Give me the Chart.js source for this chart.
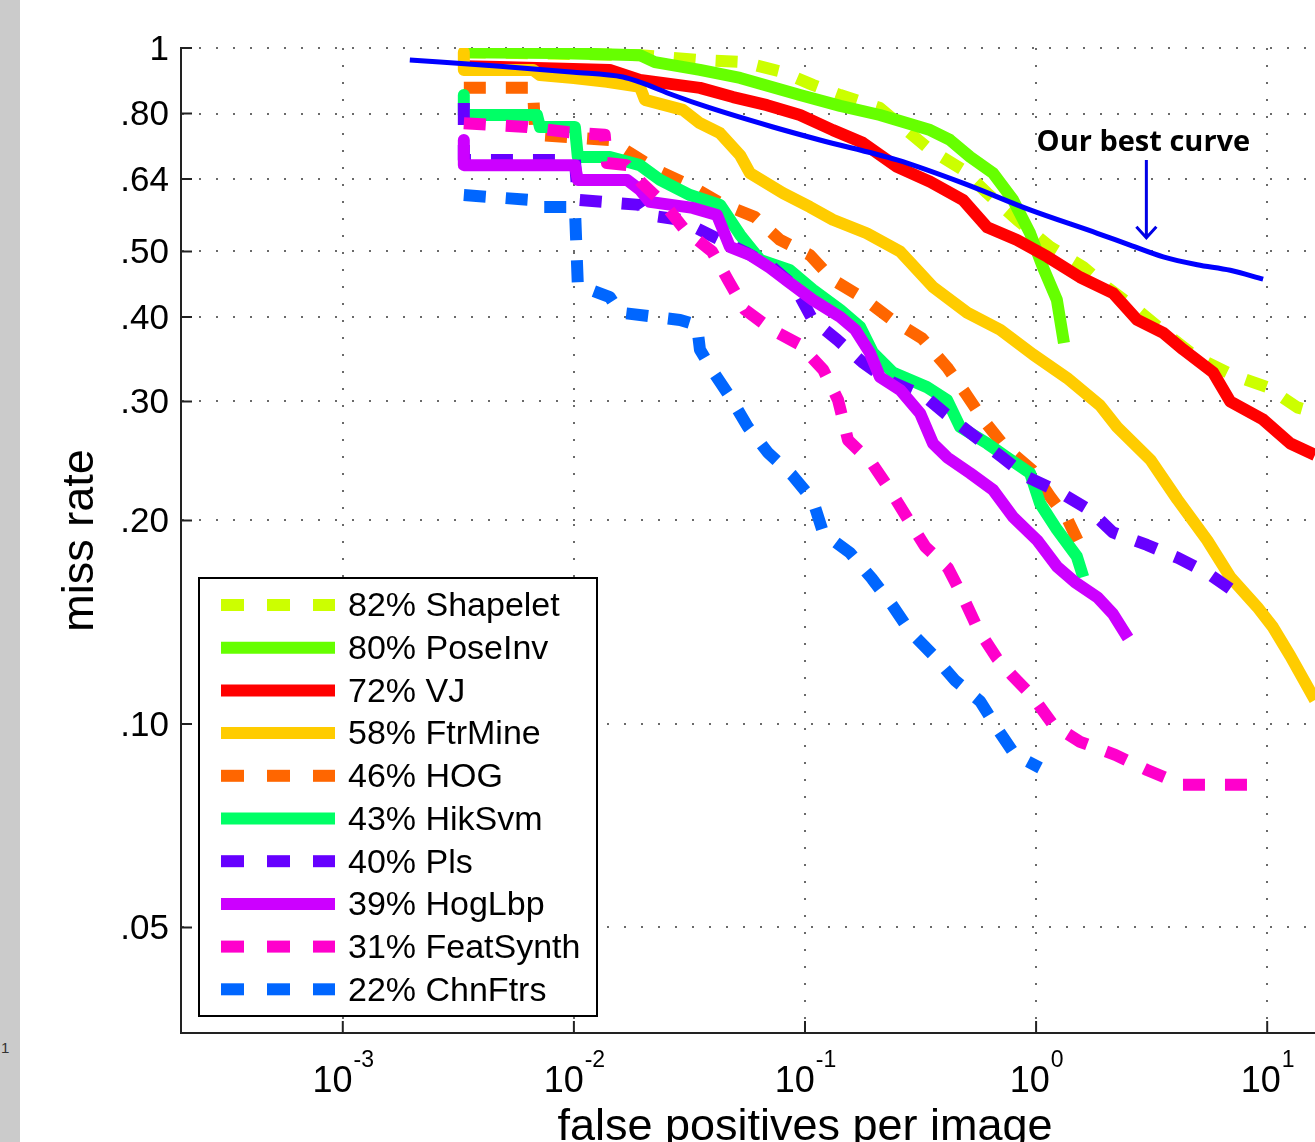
<!DOCTYPE html>
<html>
<head>
<meta charset="utf-8">
<script src="https://cdn.jsdelivr.net/npm/chart.js@4.4.1/dist/chart.umd.min.js"></script>
<style>
  html, body { margin: 0; padding: 0; background: #fff; overflow: hidden; }
  #wrap { position: absolute; left: 0; top: 0; width: 1315px; height: 1142px; }
  #strip { position: absolute; left: 0; top: 0; width: 20px; height: 1142px; background: #cbcbcb; }
  #strip span { position: absolute; left: 1px; top: 1039px; font: 15px "Liberation Sans", Arial, sans-serif; color: #333; }
</style>
</head>
<body>
<div id="wrap"><canvas id="roc"></canvas></div>
<div id="strip"><span>1</span></div>
<script>
// axis ticks
const xTicks = [0.001, 0.01, 0.1, 1, 10];
const xExponents = ["-3", "-2", "-1", "0", "1"];
const yTicks = [0.05, 0.1, 0.2, 0.3, 0.4, 0.5, 0.64, 0.8, 1];
const yLabels = [".05", ".10", ".20", ".30", ".40", ".50", ".64", ".80", "1"];

// methods (legend order) and their log-average miss rates
const methods = ["Shapelet", "PoseInv", "VJ", "FtrMine", "HOG", "HikSvm", "Pls", "HogLbp", "FeatSynth", "ChnFtrs"];
const missRates = [82, 80, 72, 58, 46, 43, 40, 39, 31, 22];

// curves: false positives per image / miss rate
const shapeletFppi = [0.00334, 0.0193, 0.0351, 0.0539, 0.0803, 0.108, 0.142, 0.211, 0.285, 0.348, 0.483, 0.614, 0.827, 1.15, 1.6, 2.09, 2.74, 3.8, 4.98, 7.13, 10, 13.5, 16.1];
const shapeletMiss = [0.986, 0.976, 0.96, 0.953, 0.921, 0.882, 0.852, 0.815, 0.748, 0.707, 0.66, 0.61, 0.557, 0.508, 0.474, 0.439, 0.41, 0.374, 0.348, 0.328, 0.315, 0.294, 0.289];

const poseInvFppi = [0.00334, 0.00828, 0.0193, 0.0224, 0.0351, 0.0524, 0.0951, 0.142, 0.211, 0.348, 0.424, 0.518, 0.651, 0.795, 0.942, 1.07, 1.23, 1.32];
const poseInvMiss = [0.986, 0.983, 0.976, 0.953, 0.928, 0.903, 0.852, 0.821, 0.796, 0.756, 0.731, 0.69, 0.653, 0.596, 0.532, 0.474, 0.424, 0.366];

const vjFppi = [0.00334, 0.00478, 0.0143, 0.0193, 0.0351, 0.0488, 0.0685, 0.0951, 0.132, 0.178, 0.25, 0.348, 0.483, 0.614, 0.827, 1.12, 1.55, 2.15, 2.74, 3.55, 4.33, 5.84, 6.92, 9.6, 12.6, 16.1];
const vjMiss = [0.94, 0.937, 0.928, 0.897, 0.873, 0.846, 0.823, 0.796, 0.756, 0.724, 0.667, 0.634, 0.596, 0.543, 0.52, 0.491, 0.458, 0.434, 0.396, 0.379, 0.358, 0.331, 0.3, 0.282, 0.26, 0.25];

const ftrMineFppi = [0.00334, 0.00334, 0.00665, 0.00713, 0.01, 0.0139, 0.0193, 0.0203, 0.0296, 0.0351, 0.0429, 0.0524, 0.0578, 0.0803, 0.105, 0.132, 0.185, 0.258, 0.358, 0.503, 0.699, 0.97, 1.36, 1.89, 2.24, 3.12, 4.08, 5.5, 6.92, 9.05, 10.6, 12.6, 16.1];
const ftrMineMiss = [0.986, 0.928, 0.928, 0.912, 0.903, 0.891, 0.876, 0.838, 0.81, 0.774, 0.748, 0.694, 0.653, 0.61, 0.582, 0.557, 0.532, 0.5, 0.443, 0.406, 0.383, 0.352, 0.325, 0.296, 0.275, 0.246, 0.215, 0.187, 0.165, 0.149, 0.139, 0.126, 0.1085];

const hogFppi = [0.00334, 0.00665, 0.00681, 0.0143, 0.0175, 0.0236, 0.0327, 0.0429, 0.0608, 0.078, 0.105, 0.132, 0.178, 0.238, 0.321, 0.412, 0.493, 0.59, 0.734, 0.961, 1.15, 1.375, 1.63];
const hogMiss = [0.873, 0.873, 0.744, 0.731, 0.699, 0.656, 0.623, 0.59, 0.562, 0.52, 0.494, 0.454, 0.427, 0.396, 0.372, 0.337, 0.309, 0.282, 0.257, 0.2375, 0.217, 0.2, 0.177];

const hikSvmFppi = [0.00334, 0.00334, 0.00692, 0.00713, 0.0101, 0.0104, 0.0143, 0.0193, 0.0236, 0.0318, 0.0429, 0.0524, 0.0639, 0.0861, 0.108, 0.142, 0.173, 0.197, 0.24, 0.337, 0.412, 0.469, 0.614, 0.749, 0.942, 1.04, 1.23, 1.5, 1.6];
const hikSvmMiss = [0.852, 0.796, 0.796, 0.764, 0.764, 0.69, 0.69, 0.671, 0.638, 0.606, 0.586, 0.529, 0.486, 0.469, 0.439, 0.41, 0.387, 0.354, 0.331, 0.315, 0.3015, 0.275, 0.26, 0.248, 0.235, 0.212, 0.194, 0.177, 0.165];

const plsFppi = [0.00334, 0.00334, 0.0101, 0.0104, 0.0193, 0.0207, 0.0288, 0.0388, 0.055, 0.072, 0.0905, 0.108, 0.138, 0.177, 0.226, 0.331, 0.404, 0.545, 0.713, 0.914, 1.27, 1.71, 2.15, 3.02, 4.12, 5.55, 8.03];
const plsMiss = [0.829, 0.683, 0.683, 0.596, 0.586, 0.566, 0.557, 0.529, 0.499, 0.474, 0.443, 0.396, 0.37, 0.343, 0.323, 0.305, 0.288, 0.266, 0.248, 0.232, 0.22, 0.207, 0.192, 0.184, 0.176, 0.167, 0.153];

const hogLbpFppi = [0.00334, 0.00334, 0.0101, 0.0104, 0.017, 0.0193, 0.0213, 0.0327, 0.0416, 0.0473, 0.0578, 0.0705, 0.0861, 0.108, 0.142, 0.165, 0.191, 0.211, 0.258, 0.315, 0.358, 0.412, 0.518, 0.651, 0.795, 1.01, 1.23, 1.475, 1.84, 2.15, 2.5];
const hogLbpMiss = [0.731, 0.671, 0.671, 0.638, 0.638, 0.617, 0.592, 0.58, 0.566, 0.508, 0.494, 0.473, 0.449, 0.424, 0.4, 0.383, 0.354, 0.326, 0.312, 0.288, 0.26, 0.248, 0.235, 0.222, 0.2024, 0.187, 0.171, 0.162, 0.154, 0.1455, 0.134];

const featSynthFppi = [0.00334, 0.00626, 0.00933, 0.0136, 0.0139, 0.0169, 0.0197, 0.0248, 0.0302, 0.0396, 0.0464, 0.055, 0.072, 0.0951, 0.12, 0.139, 0.1535, 0.195, 0.233, 0.277, 0.331, 0.416, 0.483, 0.561, 0.678, 0.787, 0.97, 1.185, 1.55, 2.2, 3.02, 4.29, 9.8];
const featSynthMiss = [0.774, 0.764, 0.751, 0.744, 0.676, 0.671, 0.631, 0.586, 0.538, 0.5, 0.454, 0.41, 0.383, 0.364, 0.334, 0.3015, 0.263, 0.243, 0.222, 0.2017, 0.183, 0.17, 0.154, 0.138, 0.125, 0.118, 0.1096, 0.0997, 0.0941, 0.09, 0.0855, 0.0813, 0.0813];

const chnFtrsFppi = [0.00334, 0.00645, 0.00681, 0.0101, 0.0104, 0.0143, 0.0158, 0.0288, 0.0341, 0.0351, 0.0396, 0.0473, 0.0566, 0.0691, 0.0879, 0.108, 0.12, 0.157, 0.195, 0.238, 0.285, 0.358, 0.446, 0.573, 0.685, 0.811, 1.04];
const chnFtrsMiss = [0.606, 0.596, 0.582, 0.582, 0.446, 0.428, 0.406, 0.396, 0.389, 0.358, 0.334, 0.305, 0.275, 0.252, 0.2335, 0.2145, 0.1916, 0.179, 0.164, 0.15, 0.137, 0.1265, 0.116, 0.108, 0.098, 0.09, 0.0861];

const oursFppi = [0.00195, 0.00478, 0.01, 0.0163, 0.0193, 0.0268, 0.0377, 0.0727, 0.116, 0.25, 0.483, 0.942, 1.84, 2.55, 3.55, 4.98, 6.92, 9.6];
const oursMiss = [0.96, 0.94, 0.921, 0.906, 0.89, 0.852, 0.818, 0.764, 0.731, 0.683, 0.631, 0.576, 0.532, 0.511, 0.491, 0.478, 0.469, 0.455];

// styles
const colors = ["#ccff00", "#66ff00", "#ff0000", "#ffcc00", "#ff6600", "#00ff66", "#6600ff", "#cc00ff", "#ff00cc", "#0066ff"];
const dashed = [true, false, false, false, true, false, true, false, true, true];

const curves = [
  [shapeletFppi, shapeletMiss], [poseInvFppi, poseInvMiss], [vjFppi, vjMiss],
  [ftrMineFppi, ftrMineMiss], [hogFppi, hogMiss], [hikSvmFppi, hikSvmMiss],
  [plsFppi, plsMiss], [hogLbpFppi, hogLbpMiss], [featSynthFppi, featSynthMiss],
  [chnFtrsFppi, chnFtrsMiss],
];

const FONT = '"Liberation Sans", Arial, Helvetica, sans-serif';

function toPoints(xs, ys) {
  return xs.map((v, i) => ({ x: v, y: ys[i] }));
}

const datasets = curves.map((c, i) => ({
  label: missRates[i] + "% " + methods[i],
  data: toPoints(c[0], c[1]),
  borderColor: colors[i],
  borderWidth: 12,
  borderDash: dashed[i] ? [22, 20] : [],
  borderJoinStyle: "round",
  pointRadius: 0,
  tension: 0,
  order: 10 - i, // later methods drawn on top, like the original plot
}));

datasets.push({
  label: "Our best curve",
  data: toPoints(oursFppi, oursMiss),
  borderColor: "#0000ff",
  borderWidth: 5,
  pointRadius: 0,
  cubicInterpolationMode: "monotone",
  order: 0,
});

// annotation anchor (data space)
const noteX = 3.0;
const noteTextY = 0.73;
const arrowTopY = 0.683;
const arrowTipY = 0.524;

const decor = {
  id: "decor",
  afterDraw(chart) {
    const { ctx, chartArea: a, scales } = chart;
    const x = scales.x, y = scales.y;
    ctx.save();

    // inward tick marks
    ctx.strokeStyle = "#222";
    ctx.lineWidth = 2;
    ctx.beginPath();
    yTicks.forEach((v) => {
      const py = y.getPixelForValue(v);
      ctx.moveTo(a.left, py);
      ctx.lineTo(a.left + 11, py);
    });
    xTicks.forEach((v) => {
      const px = x.getPixelForValue(v);
      ctx.moveTo(px, a.bottom);
      ctx.lineTo(px, a.bottom - 12);
    });
    ctx.stroke();

    // x tick labels: 10 with superscript exponent
    ctx.fillStyle = "#000";
    ctx.textBaseline = "alphabetic";
    ctx.textAlign = "left";
    xTicks.forEach((v, i) => {
      const px = x.getPixelForValue(v);
      ctx.font = "36px " + FONT;
      const wb = ctx.measureText("10").width;
      ctx.font = "23px " + FONT;
      const we = ctx.measureText(xExponents[i]).width;
      const left = px - (wb + we) / 2;
      ctx.font = "36px " + FONT;
      ctx.fillText("10", left, a.bottom + 59);
      ctx.font = "23px " + FONT;
      ctx.fillText(xExponents[i], left + wb + 1, a.bottom + 34);
    });

    // axis titles
    ctx.font = "45px " + FONT;
    ctx.textAlign = "center";
    ctx.fillText("false positives per image", 805, a.bottom + 107);
    ctx.save();
    ctx.translate(93, (a.top + a.bottom) / 2);
    ctx.rotate(-Math.PI / 2);
    ctx.fillText("miss rate", 0, 0);
    ctx.restore();

    // legend box
    const lx = a.left + 18, ly = 578, lw = 398, lh = 438;
    ctx.fillStyle = "#fff";
    ctx.fillRect(lx, ly, lw, lh);
    ctx.strokeStyle = "#000";
    ctx.lineWidth = 2;
    ctx.strokeRect(lx, ly, lw, lh);
    ctx.font = "34px " + FONT;
    ctx.textAlign = "left";
    ctx.textBaseline = "middle";
    methods.forEach((m, i) => {
      const ry = ly + 27 + i * 42.7;
      ctx.strokeStyle = colors[i];
      ctx.lineWidth = 12;
      ctx.setLineDash(dashed[i] ? [23, 23] : []);
      ctx.beginPath();
      ctx.moveTo(lx + 22, ry);
      ctx.lineTo(lx + 136, ry);
      ctx.stroke();
      ctx.setLineDash([]);
      ctx.fillStyle = "#000";
      ctx.fillText(missRates[i] + "% " + m, lx + 149, ry + 2);
    });

    // "Our best curve" note and arrow
    const nx = x.getPixelForValue(noteX);
    ctx.font = 'bold 29px "Open Sans", "DejaVu Sans", sans-serif';
    ctx.textAlign = "center";
    ctx.textBaseline = "alphabetic";
    ctx.fillStyle = "#000";
    ctx.fillText("Our best curve", nx - 3, y.getPixelForValue(noteTextY) + 11);
    const top = y.getPixelForValue(arrowTopY);
    const tip = y.getPixelForValue(arrowTipY);
    ctx.strokeStyle = "#0000e6";
    ctx.lineWidth = 3;
    ctx.beginPath();
    ctx.moveTo(nx, top);
    ctx.lineTo(nx, tip);
    ctx.moveTo(nx - 10, tip - 11);
    ctx.lineTo(nx, tip);
    ctx.lineTo(nx + 10, tip - 11);
    ctx.stroke();

    ctx.restore();
  },
};

const gridStyle = { color: "#6a6a6a", lineWidth: 2, drawTicks: false };

new Chart(document.getElementById("roc"), {
  type: "line",
  data: { datasets: datasets },
  options: {
    responsive: true,
    maintainAspectRatio: false,
    animation: false,
    layout: { padding: { top: 48, right: 0, left: 0, bottom: 0 } },
    plugins: { legend: { display: false }, tooltip: { enabled: false } },
    scales: {
      x: {
        type: "logarithmic",
        position: "bottom",
        min: 0.0001995,
        max: 16.1,
        afterBuildTicks: (s) => { s.ticks = xTicks.map((v) => ({ value: v })); },
        afterFit: (s) => { s.height = 109; },
        ticks: { display: false, autoSkip: false },
        grid: gridStyle,
        border: { display: true, color: "#222", width: 2, dash: [2, 15] },
      },
      y: {
        type: "logarithmic",
        position: "left",
        min: 0.0349,
        max: 1,
        afterBuildTicks: (s) => { s.ticks = yTicks.map((v) => ({ value: v })); },
        afterFit: (s) => { s.width = 181; },
        ticks: {
          autoSkip: false,
          padding: 12,
          labelOffset: 2,
          color: "#000",
          font: { family: FONT, size: 35 },
          callback: (v, i) => yLabels[i],
        },
        grid: gridStyle,
        border: { display: true, color: "#222", width: 2, dash: [2, 15] },
      },
    },
  },
  plugins: [decor],
});
</script>
</body>
</html>
